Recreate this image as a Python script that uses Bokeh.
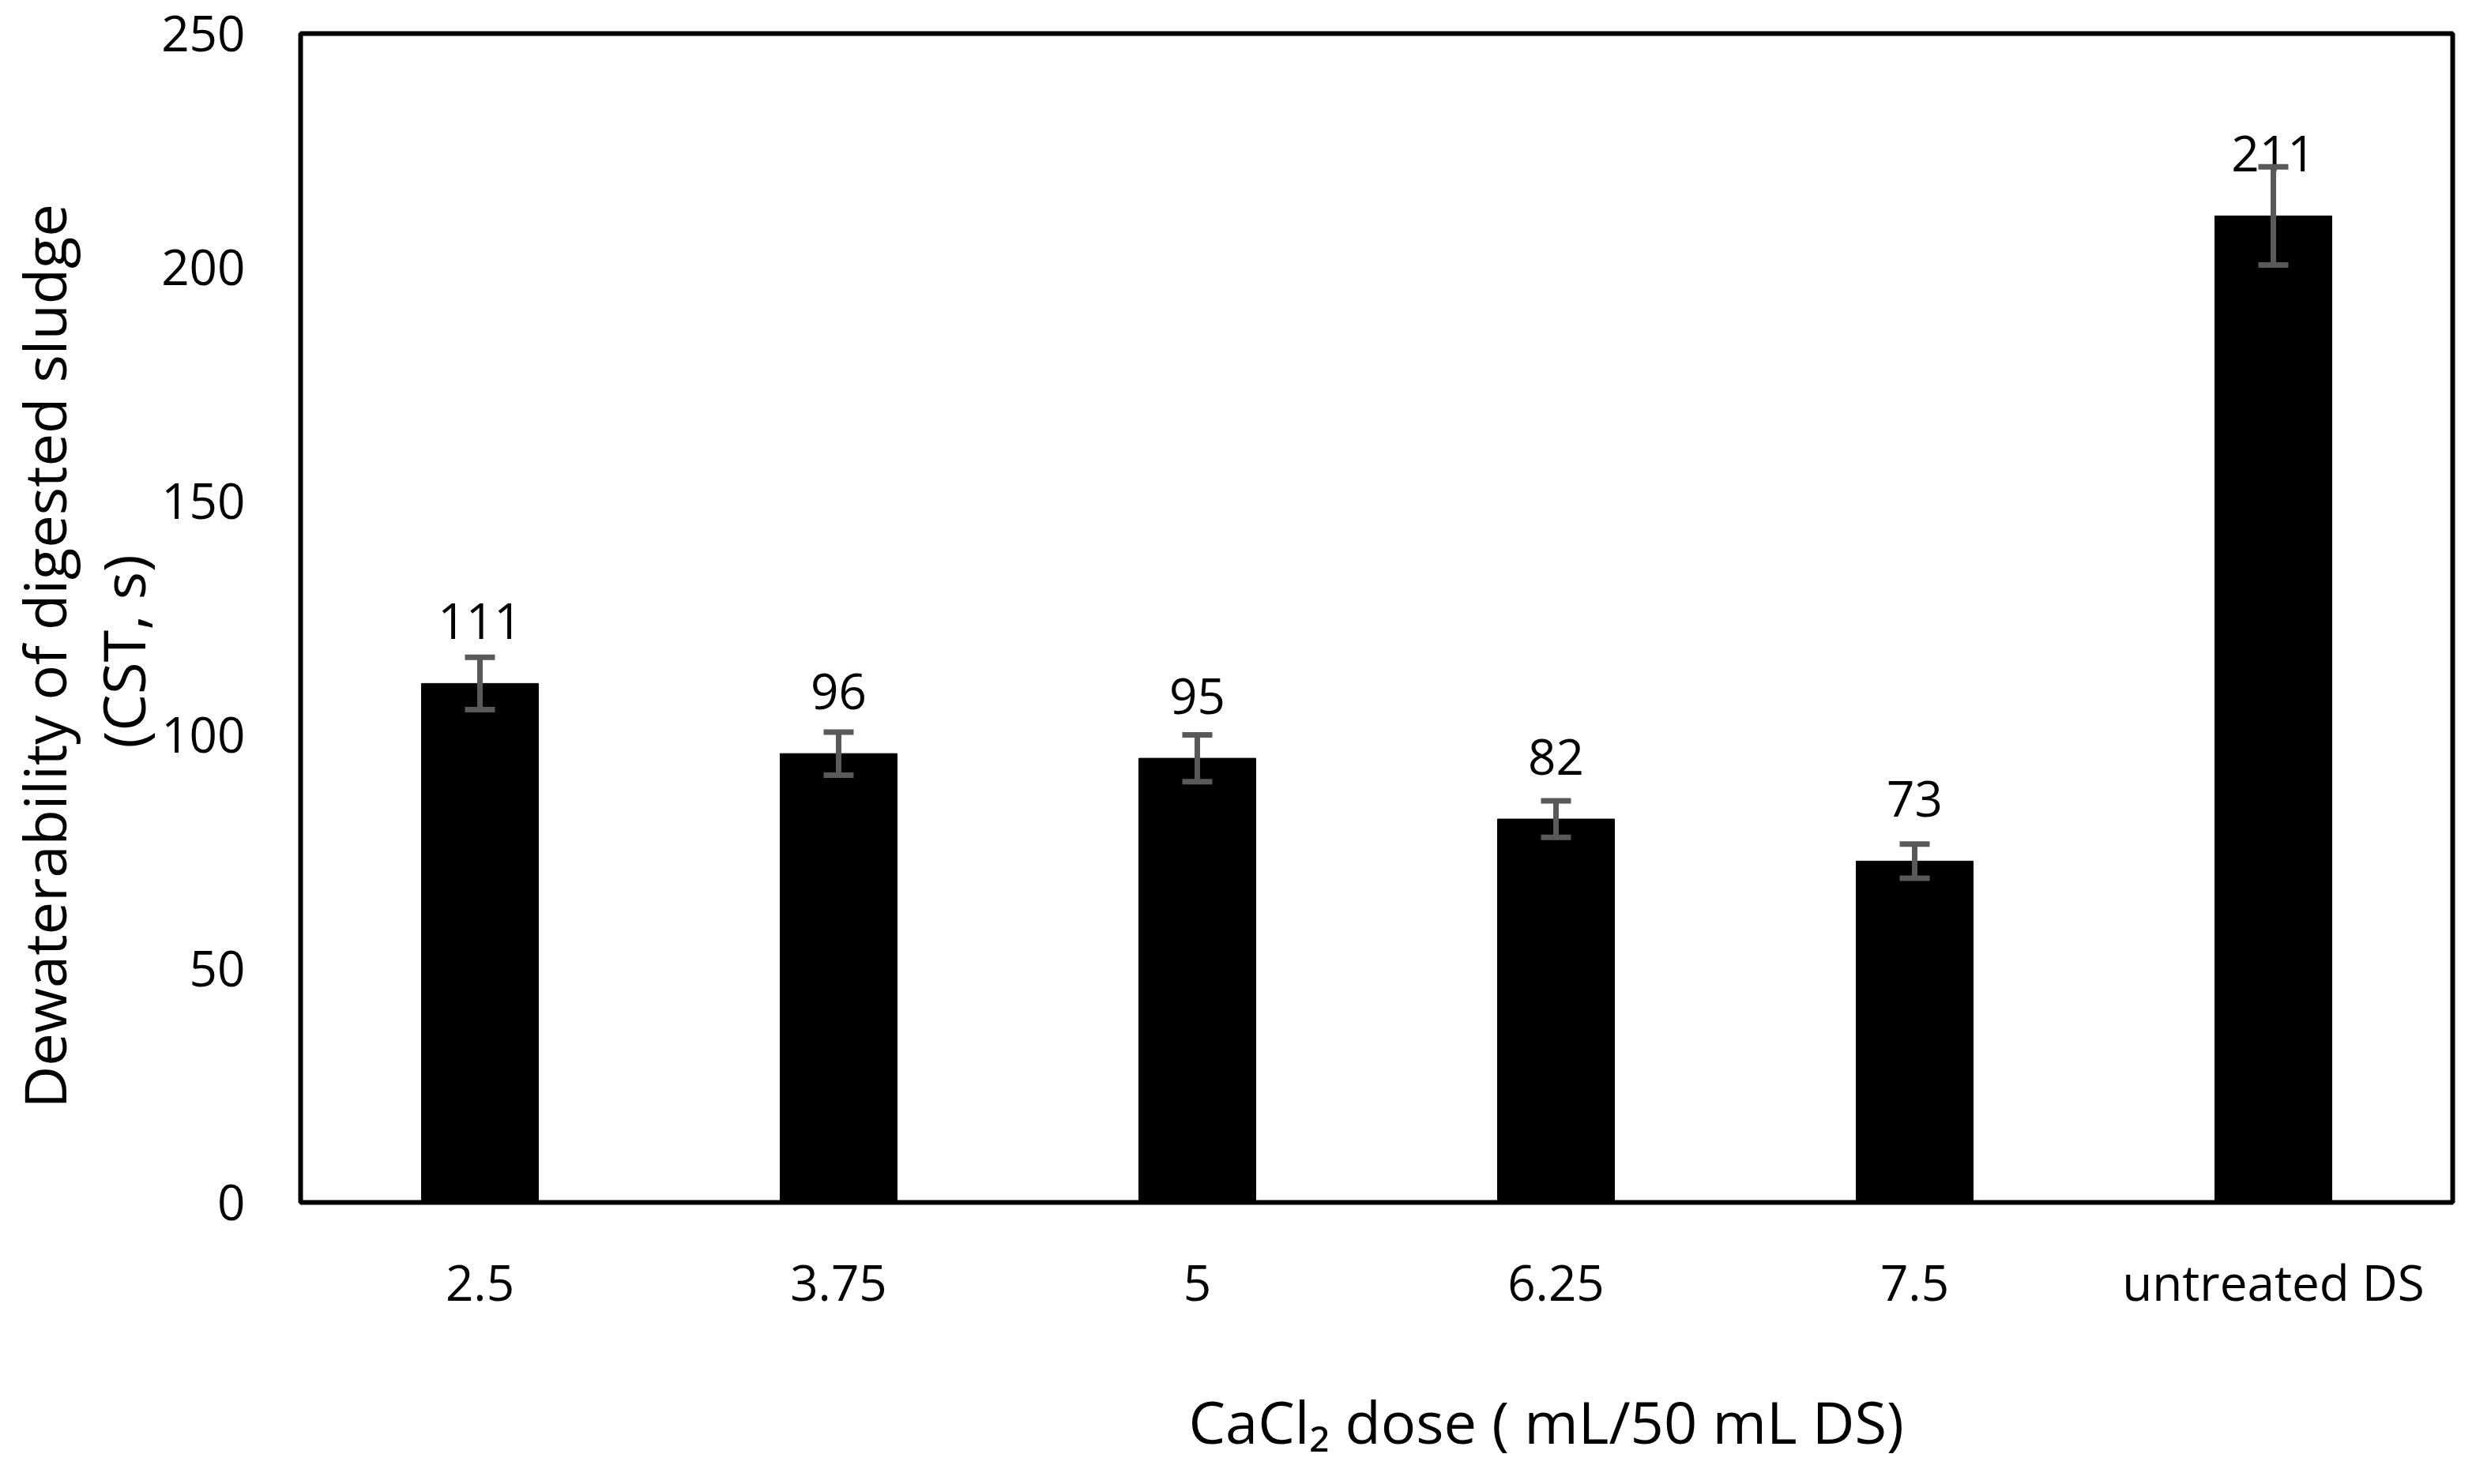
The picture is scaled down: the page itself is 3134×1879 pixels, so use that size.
from bokeh.plotting import figure
from bokeh.models import ColumnDataSource, Whisker, TeeHead, LabelSet, Title, FixedTicker
from bokeh.core.properties import value
from bokeh.embed import file_html
from bokeh.resources import INLINE

categories = ["2.5", "3.75", "5", "6.25", "7.5", "untreated DS"]
cst_values = [111, 96, 95, 82, 73, 211]
cst_errors = [5.6, 4.6, 5.0, 3.9, 3.65, 10.5]
y_ticks = [0, 50, 100, 150, 200, 250]

FONT = "Open Sans"
FS = "62px"
TFS = "74px"

src = ColumnDataSource(dict(
    cat=categories,
    val=cst_values,
    upper=[v + e for v, e in zip(cst_values, cst_errors)],
    lower=[v - e for v, e in zip(cst_values, cst_errors)],
    lab=[str(v) for v in cst_values],
))

p = figure(x_range=categories, y_range=(0, 250),
           frame_width=2724, frame_height=1480,
           min_border_left=380, min_border_top=42, min_border_right=14, min_border_bottom=330,
           output_backend="svg", toolbar_location=None)

p.vbar(x="cat", top="val", width=0.326, source=src, fill_color="black", line_color="black")

whisk = Whisker(base="cat", upper="upper", lower="lower", source=src,
                line_color="#595959", line_width=7, level="overlay",
                upper_head=TeeHead(size=38, line_color="#595959", line_width=7),
                lower_head=TeeHead(size=38, line_color="#595959", line_width=7))
p.add_layout(whisk)

labels = LabelSet(x="cat", y="val", text="lab", source=src, y_offset=56,
                  text_align="center", text_baseline="alphabetic",
                  text_font=value(FONT), text_font_size=value(FS), text_color="black")
p.add_layout(labels)

p.outline_line_color = "black"
p.outline_line_width = 6
p.xgrid.grid_line_color = None
p.ygrid.grid_line_color = None

p.yaxis.ticker = FixedTicker(ticks=y_ticks)
for ax in (p.xaxis[0], p.yaxis[0]):
    ax.axis_line_color = None
    ax.major_tick_line_color = None
    ax.minor_tick_line_color = None
    ax.major_tick_out = 0
    ax.major_tick_in = 0
    ax.major_label_text_font = FONT
    ax.major_label_text_font_size = FS
    ax.major_label_text_color = "black"
p.yaxis.major_label_standoff = 70
p.xaxis.major_label_standoff = 58

p.add_layout(Title(text="CaCl\u2082 dose ( mL/50 mL DS)", align="left", offset=1124,
                   text_font=FONT, text_font_size=TFS, text_font_style="normal",
                   text_color="black", standoff=158), "below")
p.add_layout(Title(text="(CST, s)", align="left", offset=575,
                   text_font=FONT, text_font_size=TFS, text_font_style="normal",
                   text_color="black", standoff=-8), "left")
p.add_layout(Title(text="Dewaterability of digested sludge", align="left", offset=119,
                   text_font=FONT, text_font_size=TFS, text_font_style="normal",
                   text_color="black", standoff=2), "left")

open("out.html", "w").write(file_html(p, INLINE))
